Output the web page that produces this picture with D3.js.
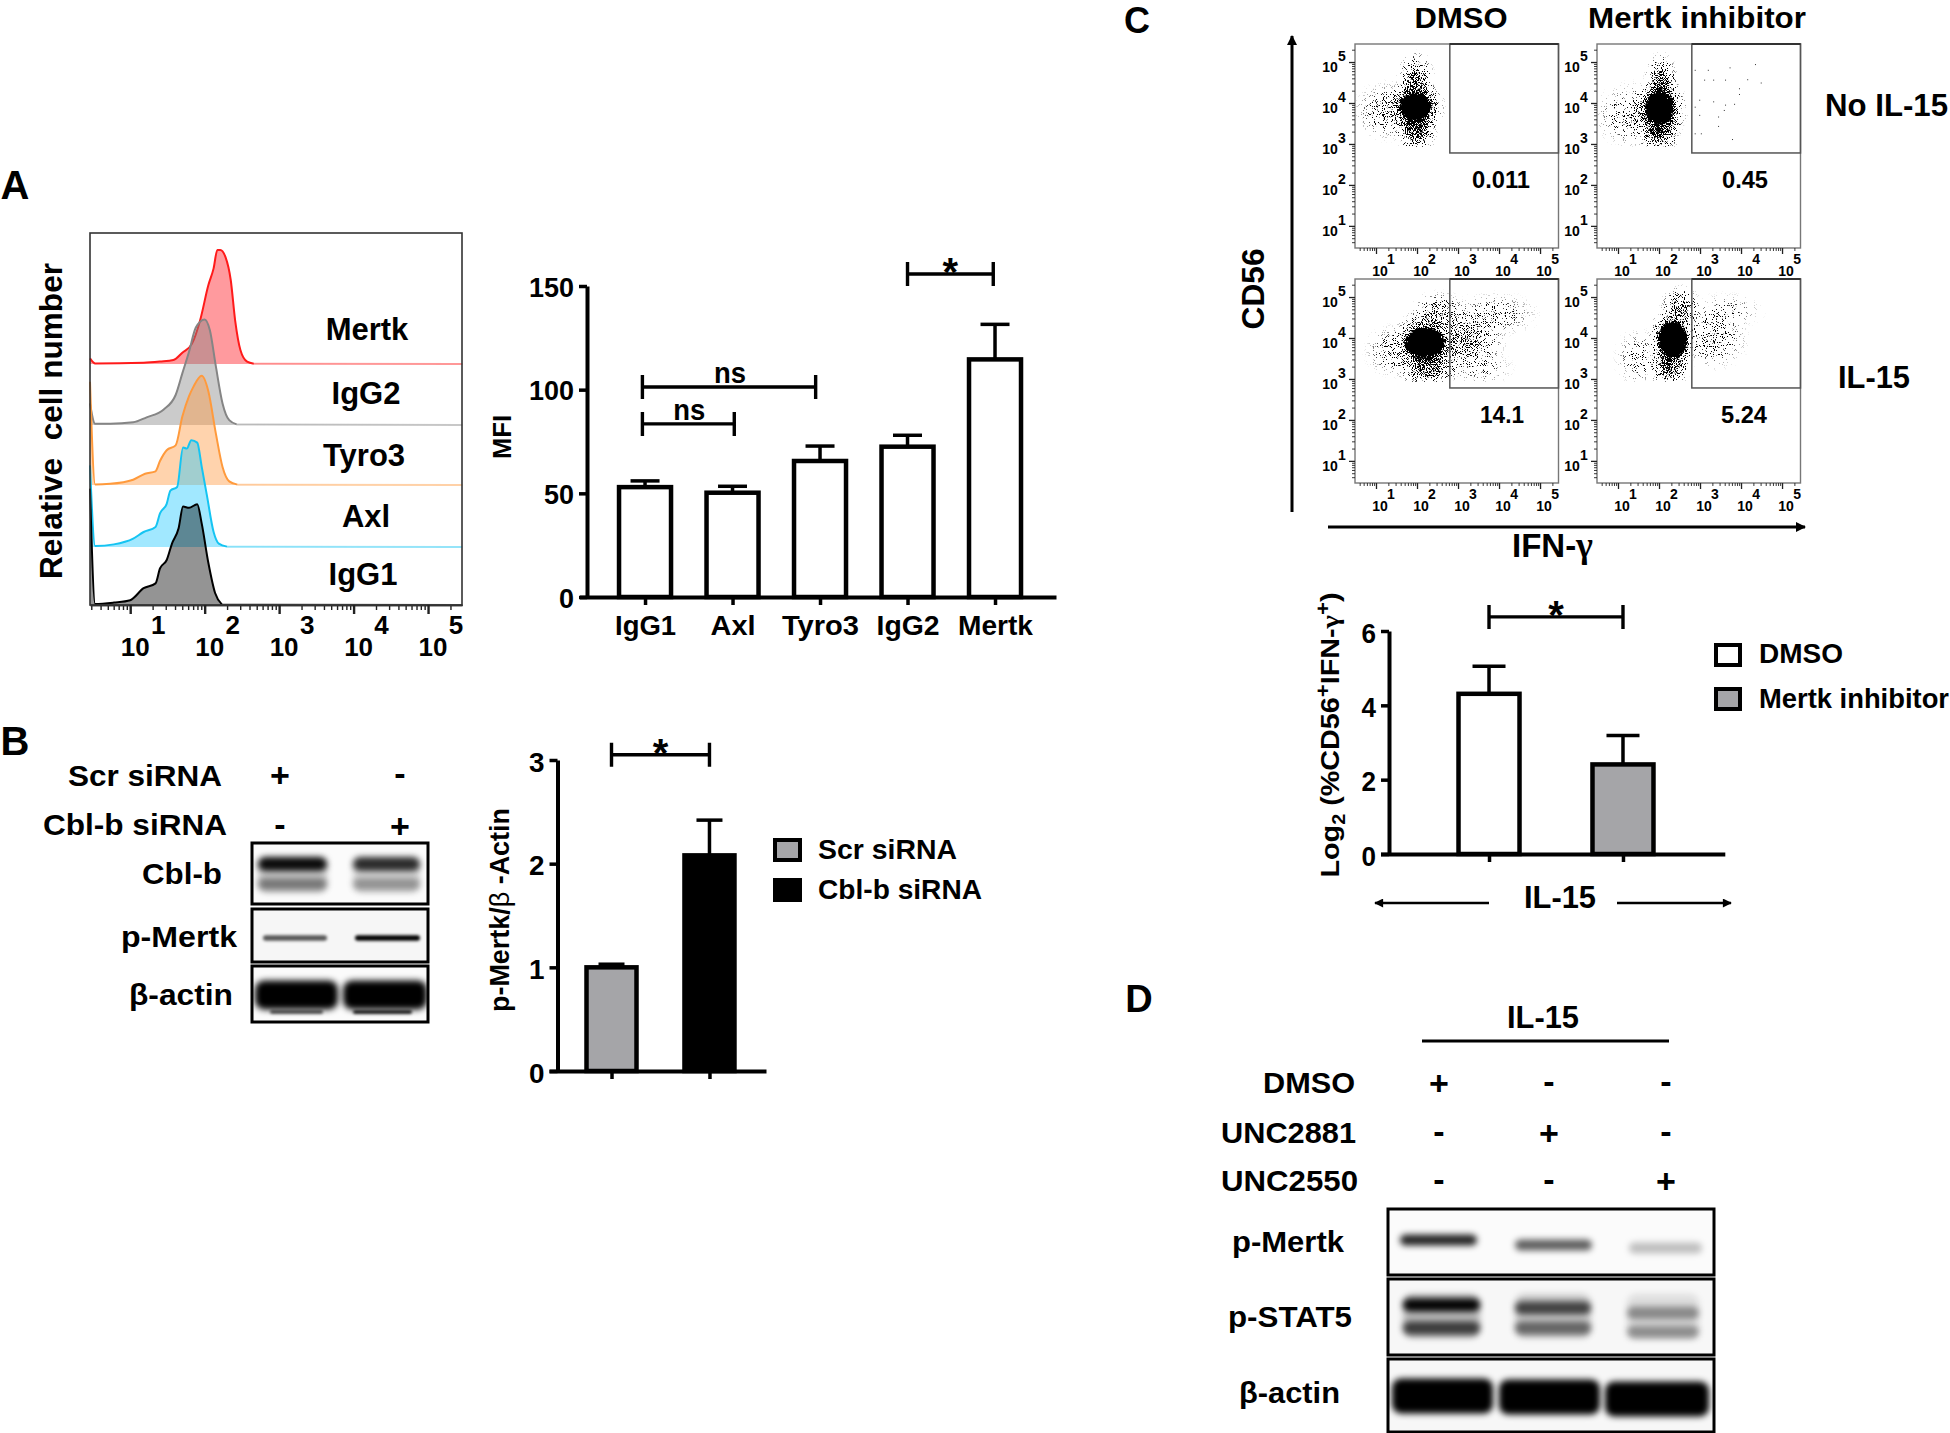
<!DOCTYPE html>
<html>
<head>
<meta charset="utf-8">
<script src="https://cdn.jsdelivr.net/npm/d3@7"></script>
<style>
html, body { margin: 0; background: #fff; overflow: hidden; }
svg { display: block; }
text { font-family: "Liberation Sans", Arial, sans-serif; font-weight: 700; fill: #000; white-space: pre; }
</style>
</head>
<body>
<div id="chart"></div>
<script>
// ---- data ----

// panel A histograms: x is log10 fluorescence, y is relative count
var histNames = ["Mertk", "IgG2", "Tyro3", "Axl", "IgG1"];
var mertkX = [0.46,0.53,1.18,1.40,1.58,1.70,1.83,1.94,2.05,2.12,2.17,2.21,2.28,2.35,2.41,2.48,2.57,2.66,5.46];
var mertkY = [4.7,0.5,1,2,3.3,9.4,17,36.7,65.8,79.7,95,95,89,70,36,11.7,2,0.3,0];
var igg2X = [0.46,0.53,0.73,1.04,1.22,1.45,1.61,1.70,1.79,1.88,2.0,2.07,2.15,2.24,2.33,2.43,5.46];
var igg2Y = [18,1,1,2.2,6.4,13,25,43,61,81,88,79,49,18,4,0.5,0];
var tyro3X = [0.46,0.53,0.73,1.04,1.2,1.34,1.40,1.49,1.61,1.70,1.79,1.85,1.96,2.05,2.15,2.24,2.33,2.44,5.46];
var tyro3Y = [86,0.5,1,4.4,9.4,11.4,20,29,33,57,74,82,91,78,43,15,3,0.3,0];
var axlX = [0.46,0.53,0.78,1.04,1.18,1.34,1.40,1.49,1.54,1.63,1.71,1.76,1.82,1.9,1.96,2.03,2.12,2.19,2.3,5.46];
var axlY = [68,0.8,2.2,7,12.5,16.7,28,36,47,50,83,82,89,87,67,43,12.5,2.8,0.3,0];
var igg1X = [0.46,0.53,0.78,1.0,1.18,1.34,1.40,1.49,1.56,1.65,1.71,1.79,1.9,1.96,2.05,2.14,2.23,5.46];
var igg1Y = [97,0.8,2,4,14,18,30.5,37.5,51,64,82,81,84,68,35,10,0.5,0];
var decades = [1, 2, 3, 4, 5];

// panel A bars
var mfiCats = ["IgG1", "Axl", "Tyro3", "IgG2", "Mertk"];
var mfiMeans = [53, 50.3, 65.6, 72.5, 114.6];
var mfiTops = [56, 53.4, 72.8, 78, 131.5];
var mfiTicks = [0, 50, 100, 150];

// panel B bars
var pMertkCats = ["Scr siRNA", "Cbl-b siRNA"];
var pMertkMeans = [1.0, 2.08];
var pMertkTops = [1.03, 2.42];
var pMertkTicks = [0, 1, 2, 3];

// panel C bars
var log2Cats = ["DMSO", "Mertk inhibitor"];
var log2Means = [4.31, 2.41];
var log2Tops = [5.05, 3.19];
var log2Ticks = [0, 2, 4, 6];

// panel C flow plots: gate percentages, solid cores and density regions (log10 units), sparse events read one by one
var gatePct = ["0.011", "0.45", "14.1", "5.24"];
var coreDmso = [1.96, 3.91, 0.38, 0.32];
var coreInh = [2.02, 3.87, 0.33, 0.4];
var coreDmsoIl = [2.19, 3.88, 0.48, 0.36];
var coreInhIl = [2.33, 3.96, 0.36, 0.44];
var cloudDmso = [[1.97,3.91,0.75,0.72,1],[1.97,3.91,0.55,0.55,1],[1.98,3.35,0.55,0.7,0.75],[1.97,4.55,0.5,0.8,0.6],[1.35,3.8,1.0,0.8,0.3]];
var cloudInh = [[2.02,3.87,0.72,0.8,1],[2.02,3.87,0.5,0.65,1],[2,3.35,0.6,0.65,0.75],[2.05,4.5,0.45,0.8,0.65],[1.4,3.7,1.1,0.9,0.28]];
var cloudDmsoIl = [[2.19,3.88,0.85,0.85,1],[2.19,3.88,0.6,0.6,1],[3.2,3.96,1.05,0.85,0.45],[3.89,4.58,1.2,0.6,0.2],[2.53,4.6,0.75,0.6,0.4],[2.3,3.3,0.85,0.7,0.6],[3.55,3.27,0.9,0.5,0.15],[1.4,3.68,0.75,0.7,0.25]];
var cloudInhIl = [[2.33,3.96,0.62,0.9,1],[2.33,3.96,0.42,0.65,1],[2.25,3.31,0.55,0.6,0.7],[2.53,4.74,0.55,0.6,0.5],[3.32,4,0.95,0.85,0.28],[3.66,4.66,1,0.5,0.14],[1.5,3.51,0.65,0.8,0.2]];
var sparseInhX = [2.87,3.19,3.72,4.34,3.10,3.32,3.61,4.15,4.48,3.95,3.95,2.98,3.32,3.61,3.83,2.87,3.58,2.98,3.44,3.44,2.87,3.02,3.78];
var sparseInhY = [4.81,4.81,4.87,4.95,4.57,4.57,4.57,4.58,4.50,4.36,4.22,4.08,4.04,3.96,3.98,3.91,3.83,3.71,3.67,3.44,3.26,3.26,3.12];

// western blots: band intensity per lane
var cblbUpper = [0.95, 0.8];
var cblbLower = [0.42, 0.32];
var cblbSmear = [0.18, 0.14];
var bMertkBand = [0.65, 1];
var bActinBand = [1, 1];
var bActinLow = [0.7, 0.95];
var dMertkBand = [0.85, 0.62, 0.24];
var dStat5Upper = [0.98, 0.68, 0.38];
var dStat5Lower = [0.68, 0.5, 0.36];
var dStat5Smear = [0.25, 0.18, 0.1];
var dActinBand = [1, 1, 1];

var bSigns = [["+", "-"], ["-", "+"]];
var dSigns = [["+", "-", "-"], ["-", "+", "-"], ["-", "-", "+"]];

// ---- setup ----
var svg = d3.select("#chart").append("svg").attr("width", 1950).attr("height", 1433);
var defs = svg.append("defs");

function label(x, y, str, size, len, anchor, rot) {
    var t = svg.append("text")
        .attr("x", x).attr("y", y)
        .attr("font-size", size)
        .attr("text-anchor", anchor || "middle")
        .text(str);
    if (len) t.attr("textLength", len).attr("lengthAdjust", "spacingAndGlyphs");
    if (rot) t.attr("transform", "rotate(-90 " + x + " " + y + ")");
    return t;
}

function arrowHead(id, w, h) {
    defs.append("marker").attr("id", id)
        .attr("markerUnits", "userSpaceOnUse")
        .attr("viewBox", "0 0 10 10").attr("refX", 9).attr("refY", 5)
        .attr("markerWidth", w).attr("markerHeight", h)
        .attr("orient", "auto-start-reverse")
        .append("path").attr("d", "M0,0L10,5L0,10Z");
}
arrowHead("headBig", 10, 10);
arrowHead("headSmall", 10, 9);

function arrow(x1, y1, x2, y2, width, head) {
    svg.append("line")
        .attr("x1", x1).attr("y1", y1).attr("x2", x2).attr("y2", y2)
        .attr("stroke", "#000").attr("stroke-width", width)
        .attr("marker-end", "url(#" + head + ")");
}

function minorTicks() {
    var out = [];
    d3.range(0, 6).forEach(function (d) {
        d3.range(2, 10).forEach(function (k) { out.push(d + Math.log10(k)); });
    });
    return out;
}

// panel letters
label(15, 199, "A", 40);
label(15, 755, "B", 40);
label(1137, 33, "C", 36);
label(1139, 1012, "D", 38);

// ---- panel A histograms ----
var histX = d3.scaleLinear().domain([0.46, 5.456]).range([90, 462]);
var histSeries = [
    {x: mertkX, y: mertkY, color: "#ff1a1a", fill: "rgba(255,30,40,0.45)", base: 364},
    {x: igg2X, y: igg2Y, color: "#858585", fill: "rgba(130,130,130,0.42)", base: 425},
    {x: tyro3X, y: tyro3Y, color: "#ff9a3c", fill: "rgba(255,150,60,0.42)", base: 485},
    {x: axlX, y: axlY, color: "#15c4f2", fill: "rgba(30,200,255,0.42)", base: 547},
    {x: igg1X, y: igg1Y, color: "#000", fill: "rgba(0,0,0,0.42)", base: 605}
];
var histLabelX = [367, 366, 364, 366, 363];
var histLabelY = [340, 404, 466, 527, 585];

histSeries.forEach(function (s, i) {
    var y = d3.scaleLinear().domain([0, 100]).range([s.base, s.base - 120]);
    var pts = s.x.map(function (v, j) { return [v, s.y[j]]; });
    var area = d3.area().curve(d3.curveMonotoneX)
        .x(function (d) { return histX(d[0]); }).y0(s.base).y1(function (d) { return y(d[1]); });
    var line = d3.line().curve(d3.curveMonotoneX)
        .x(function (d) { return histX(d[0]); }).y(function (d) { return y(d[1]); });
    svg.append("path").attr("d", area(pts)).attr("fill", s.fill);
    svg.append("path").attr("d", line(pts.slice(0, -1))).attr("fill", "none")
        .attr("stroke", s.color).attr("stroke-width", 2);
    svg.append("path").attr("d", line(pts.slice(-2))).attr("fill", "none")
        .attr("stroke", s.color).attr("stroke-opacity", 0.45).attr("stroke-width", 2);
    label(histLabelX[i], histLabelY[i], histNames[i], 31);
});

svg.append("rect").attr("x", 90).attr("y", 233).attr("width", 372).attr("height", 372)
    .attr("fill", "none").attr("stroke", "#333").attr("stroke-width", 1.6);

var histMinor = d3.axisBottom(histX)
    .tickValues(minorTicks().filter(function (d) { return d > 0.46 && d < 5.456; }))
    .tickSize(5).tickSizeOuter(0).tickFormat("");
var histMajor = d3.axisBottom(histX).tickValues(decades).tickSize(9).tickSizeOuter(0).tickFormat("");
[histMinor, histMajor].forEach(function (ax, k) {
    var g = svg.append("g").attr("transform", "translate(0,605)").call(ax);
    g.select(".domain").attr("stroke", "#333").attr("stroke-width", 1.6);
    g.selectAll("line").attr("stroke", "#222").attr("stroke-width", k ? 2.4 : 1.4);
});
decades.forEach(function (d) {
    label(histX(d) + 5, 656, "10", 26);
    label(histX(d) + 28, 634, String(d), 26);
});

label(62, 421, "Relative  cell number", 31, 316, "middle", true);

// ---- bar charts ----
function barChart(o) {
    var x = d3.scaleLinear().domain(o.xDomain).range(o.xRange);
    var y = d3.scaleLinear().domain(o.yDomain).range(o.yRange);
    var base = o.yRange[0];

    o.means.forEach(function (m, i) {
        svg.append("line")
            .attr("x1", x(i)).attr("x2", x(i)).attr("y1", y(m)).attr("y2", y(o.tops[i]))
            .attr("stroke", "#000").attr("stroke-width", 3.5);
        svg.append("line")
            .attr("x1", x(i) - o.capW / 2).attr("x2", x(i) + o.capW / 2)
            .attr("y1", y(o.tops[i])).attr("y2", y(o.tops[i]))
            .attr("stroke", "#000").attr("stroke-width", 3.5);
        svg.append("rect")
            .attr("x", x(i) - o.barW / 2).attr("y", y(m))
            .attr("width", o.barW).attr("height", base - y(m))
            .attr("fill", o.fills[i]).attr("stroke", "#000").attr("stroke-width", 4.5);
    });

    var yAxis = d3.axisLeft(y).tickValues(o.yTicks).tickSize(8).tickSizeOuter(0).tickFormat(d3.format("d"));
    var gy = svg.append("g").attr("transform", "translate(" + o.yAt + ",0)").call(yAxis);
    gy.select(".domain").attr("stroke", "#000").attr("stroke-width", 4);
    gy.selectAll(".tick line").attr("stroke", "#000").attr("stroke-width", 3.5);
    gy.selectAll("text")
        .attr("dy", null).attr("x", -13).attr("y", o.yLabelDy)
        .attr("text-anchor", "end")
        .attr("font-size", o.yFont)
        .style("font-family", null)
        .attr("textLength", function (d) { return String(d).length * o.yDigitW; })
        .attr("lengthAdjust", "spacingAndGlyphs");

    var xAxis = d3.axisBottom(x).tickValues(d3.range(o.means.length)).tickSize(8).tickSizeOuter(0)
        .tickFormat(function (i) { return o.xNames ? o.xNames[i] : ""; });
    var gx = svg.append("g").attr("transform", "translate(0," + base + ")").call(xAxis);
    gx.select(".domain").attr("stroke", "#000").attr("stroke-width", 4);
    gx.selectAll(".tick line").attr("stroke", "#000").attr("stroke-width", 3.5);
    if (o.xNames) {
        gx.selectAll("text")
            .attr("dy", null).attr("y", 38)
            .attr("font-size", 28)
            .attr("textLength", function (i) { return o.xNameW[i]; })
            .attr("lengthAdjust", "spacingAndGlyphs");
    }

    o.brackets.forEach(function (b) {
        var x0 = x(b.from), x1 = x(b.to), yy = y(b.level);
        svg.append("path")
            .attr("d", "M" + x0 + "," + (yy - 12) + "V" + (yy + 12) + "M" + x0 + "," + yy + "H" + x1 + "M" + x1 + "," + (yy - 12) + "V" + (yy + 12))
            .attr("fill", "none").attr("stroke", "#000").attr("stroke-width", 3.4);
        if (b.text === "*") label((x0 + x1) / 2, yy + 12, "*", 40);
        else label((x0 + x1) / 2 + 1, yy - 4, b.text, 30, 32);
    });
    return {x: x, y: y};
}

barChart({
    xDomain: [-0.749, 4.697], xRange: [579.5, 1056], yDomain: [0, 150], yRange: [597, 286], yAt: 587,
    means: mfiMeans, tops: mfiTops, fills: ["#fff", "#fff", "#fff", "#fff", "#fff"],
    barW: 52, capW: 29, yTicks: mfiTicks, yLabelDy: 10, yFont: 28, yDigitW: 15,
    xNames: mfiCats, xNameW: [61, 45, 77, 63, 75],
    brackets: [
        {from: -0.03, to: 1.02, level: 83.5, text: "ns"},
        {from: -0.03, to: 1.95, level: 101.3, text: "ns"},
        {from: 3, to: 3.98, level: 155.8, text: "*"}
    ]
});
label(511, 437, "MFI", 26, 44, "middle", true);

barChart({
    xDomain: [-0.638, 1.577], xRange: [549, 766], yDomain: [0, 3], yRange: [1071, 760], yAt: 557.5,
    means: pMertkMeans, tops: pMertkTops, fills: ["#a5a5a8", "#000"],
    barW: 50, capW: 26, yTicks: pMertkTicks, yLabelDy: 11, yFont: 28, yDigitW: 15.5,
    brackets: [{from: 0, to: 1, level: 3.05, text: "*"}]
});
var tB = label(509, 910, "", 27, 204, "middle", true);
tB.append("tspan").text("p-Mertk/");
tB.append("tspan").style("font-weight", 400).text("β");
tB.append("tspan").text(" -Actin");

barChart({
    xDomain: [-0.81, 1.76], xRange: [1380.5, 1724.8], yDomain: [0, 6], yRange: [854, 631], yAt: 1389,
    means: log2Means, tops: log2Tops, fills: ["#fff", "#a5a5a8"],
    barW: 61, capW: 33, yTicks: log2Ticks, yLabelDy: 11, yFont: 27, yDigitW: 14.5,
    brackets: [{from: 0, to: 1, level: 6.38, text: "*"}]
});
var tC = label(1339, 735, "", 26, 285, "middle", true);
tC.append("tspan").text("Log");
tC.append("tspan").attr("dy", 6).attr("font-size", 18).text("2");
tC.append("tspan").attr("dy", -6).text(" (%CD56");
tC.append("tspan").attr("dy", -9).attr("font-size", 20).text("+");
tC.append("tspan").attr("dy", 9).text("IFN-");
tC.append("tspan").style("font-family", "Liberation Serif").text("γ");
tC.append("tspan").attr("dy", -9).attr("font-size", 20).text("+");
tC.append("tspan").attr("dy", 9).text(")");

// legends
function legendBox(x, y, w, h, fill, name, tx, ty, size, len) {
    svg.append("rect").attr("x", x).attr("y", y).attr("width", w).attr("height", h)
        .attr("fill", fill).attr("stroke", "#000").attr("stroke-width", 4);
    label(tx, ty, name, size, len, "start");
}
legendBox(775, 840, 25, 20, "#a5a5a8", pMertkCats[0], 818, 859, 28, 139);
legendBox(775, 880, 25, 20, "#000", pMertkCats[1], 818, 899, 28, 164);
legendBox(1716, 645, 24, 20, "#fff", log2Cats[0], 1759, 663, 28, 84);
legendBox(1716, 689, 24, 20, "#a5a5a8", log2Cats[1], 1759, 708, 28, 190);

label(1560, 908, "IL-15", 31, 72);
arrow(1489, 903, 1375, 903, 2.6, "headSmall");
arrow(1617, 903, 1731, 903, 2.6, "headSmall");

// ---- western blots ----
[["blurThin", 1.7], ["blurMid", 3.2], ["blurWide", 3.2]].forEach(function (b) {
    defs.append("filter").attr("id", b[0]).attr("x", "-20%").attr("y", "-80%").attr("width", "140%").attr("height", "260%")
        .append("feGaussianBlur").attr("stdDeviation", b[1]);
});

var blotCount = 0;
function blot(box, lanes, bands, bg) {
    var id = "blotclip" + (blotCount++);
    defs.append("clipPath").attr("id", id).append("rect")
        .attr("x", box[0]).attr("y", box[1]).attr("width", box[2] - box[0]).attr("height", box[3] - box[1]);
    svg.append("rect").attr("x", box[0]).attr("y", box[1]).attr("width", box[2] - box[0]).attr("height", box[3] - box[1])
        .attr("fill", bg || "#fbfbfb");
    var g = svg.append("g").attr("clip-path", "url(#" + id + ")");
    bands.forEach(function (b) {
        b.values.forEach(function (v, i) {
            var l = b.lanes ? b.lanes[i] : lanes[i];
            var yc = Array.isArray(b.y) ? b.y[i] : b.y;
            g.append("rect")
                .attr("x", l[0]).attr("width", l[1] - l[0])
                .attr("y", yc - b.h / 2).attr("height", b.h)
                .attr("rx", Math.min(b.h / 2, 9))
                .attr("fill", "#000").attr("fill-opacity", v)
                .attr("filter", "url(#" + (b.h < 7 ? "blurThin" : b.h > 20 ? "blurWide" : "blurMid") + ")");
        });
    });
    svg.append("rect").attr("x", box[0]).attr("y", box[1]).attr("width", box[2] - box[0]).attr("height", box[3] - box[1])
        .attr("fill", "none").attr("stroke", "#000").attr("stroke-width", 3);
}

blot([252, 843, 428, 904], [[258, 327], [353, 420]], [
    {y: 876, h: 34, values: cblbSmear},
    {y: 864, h: 14, values: cblbUpper},
    {y: 884, h: 12, values: cblbLower}
]);
blot([252, 909, 428, 962], [[263, 327], [355, 420]], [
    {y: 938, h: 5.5, values: bMertkBand}
], "#f6f6f6");
blot([252, 966, 428, 1022], [[255, 338], [343, 427]], [
    {y: 995, h: 29, values: bActinBand},
    {y: 1012, h: 3.5, values: bActinLow, lanes: [[270, 323], [353, 412]]}
]);

blot([1388, 1209, 1714, 1275], [[1400, 1477], [1515, 1592], [1629, 1702]], [
    {y: [1240, 1245, 1248], h: 11, values: dMertkBand}
]);
blot([1388, 1279, 1714, 1355], [[1403, 1480], [1515, 1591], [1627, 1699]], [
    {y: 1316, h: 44, values: dStat5Smear},
    {y: [1305, 1308, 1313], h: 13, values: dStat5Upper},
    {y: [1328, 1328, 1332], h: 13, values: dStat5Lower}
], "#f7f7f7");
blot([1388, 1359, 1714, 1432], [[1392, 1493], [1499, 1600], [1605, 1709]], [
    {y: [1396, 1397, 1399], h: 35, values: dActinBand}
], "#f7f7f7");

// blot labels and treatment grid
function signs(table, xs, ys) {
    table.forEach(function (row, r) {
        row.forEach(function (s, c) {
            label(xs[c], ys[r] + (s === "+" ? 12 : 10), s, 34);
        });
    });
}
label(68, 786, "Scr siRNA", 30, 154, "start");
label(43, 835, "Cbl-b siRNA", 30, 184, "start");
label(142, 884, "Cbl-b", 30, 80, "start");
label(121, 947, "p-Mertk", 30, 116, "start");
label(129, 1005, "β-actin", 30, 104, "start");
signs(bSigns, [280, 400], [775, 826]);

label(1543, 1028, "IL-15", 31, 72);
svg.append("line").attr("x1", 1422).attr("x2", 1669).attr("y1", 1041).attr("y2", 1041)
    .attr("stroke", "#000").attr("stroke-width", 3);
label(1263, 1093, "DMSO", 30, 92, "start");
label(1221, 1143, "UNC2881", 30, 135, "start");
label(1221, 1191, "UNC2550", 30, 137, "start");
signs(dSigns, [1439, 1549, 1666], [1083, 1133, 1181]);
label(1232, 1252, "p-Mertk", 30, 112, "start");
label(1228, 1327, "p-STAT5", 30, 124, "start");
label(1239, 1403, "β-actin", 30, 101, "start");

// ---- panel C flow plots ----
var grad = defs.append("radialGradient").attr("id", "cloud");
[[0, 1], [0.3, 0.8], [0.5, 0.45], [0.7, 0.18], [0.85, 0.06], [1, 0]].forEach(function (s) {
    grad.append("stop").attr("offset", s[0]).attr("stop-color", "#000").attr("stop-opacity", s[1]);
});

// rough edge for the solid core of each cloud
var rough = defs.append("filter").attr("id", "rough").attr("x", "-30%").attr("y", "-30%").attr("width", "160%").attr("height", "160%");
rough.append("feTurbulence").attr("type", "fractalNoise").attr("baseFrequency", 0.7).attr("numOctaves", 1).attr("seed", 5).attr("result", "w");
rough.append("feDisplacementMap").attr("in", "SourceGraphic").attr("in2", "w").attr("scale", 9)
    .attr("xChannelSelector", "R").attr("yChannelSelector", "G");

var plotW = 203.5, plotH = 204;
function flowPlot(o) {
    var x = d3.scaleLinear().domain([0.488, 5.45]).range([o.left, o.left + plotW]);
    var y = d3.scaleLinear().domain([0.46, 5.44]).range([o.top + plotH, o.top]);
    var b = o.top + plotH, r = o.left + plotW;
    var fid = "stipple" + o.seed, cid = "plotclip" + o.seed;

    // density regions come out as stippled dots through a thresholded noise filter
    var f = defs.append("filter").attr("id", fid)
        .attr("filterUnits", "userSpaceOnUse")
        .attr("x", o.left).attr("y", o.top).attr("width", plotW).attr("height", plotH)
        .attr("color-interpolation-filters", "sRGB");
    f.append("feTurbulence").attr("type", "fractalNoise").attr("baseFrequency", 1.1)
        .attr("numOctaves", 1).attr("seed", o.seed).attr("result", "n");
    f.append("feColorMatrix").attr("in", "n").attr("type", "matrix")
        .attr("values", "0 0 0 0 0  0 0 0 0 0  0 0 0 0 0  3 0 0 0 -1").attr("result", "na");
    f.append("feComposite").attr("in", "SourceAlpha").attr("in2", "na").attr("operator", "arithmetic")
        .attr("k1", 0).attr("k2", 1).attr("k3", 1).attr("k4", -1).attr("result", "c");
    f.append("feComponentTransfer").attr("in", "c")
        .append("feFuncA").attr("type", "linear").attr("slope", 8).attr("intercept", 0);

    defs.append("clipPath").attr("id", cid).append("rect")
        .attr("x", o.left).attr("y", o.top).attr("width", plotW).attr("height", y(2.93) - o.top);

    var outer = svg.append("g").attr("clip-path", "url(#" + cid + ")");
    var g = outer.append("g").attr("filter", "url(#" + fid + ")");
    o.cloud.forEach(function (c) {
        g.append("ellipse")
            .attr("cx", x(c[0])).attr("cy", y(c[1]))
            .attr("rx", x(c[0] + c[2]) - x(c[0])).attr("ry", y(c[1]) - y(c[1] + c[3]))
            .attr("fill", "url(#cloud)").attr("opacity", c[4]);
    });
    outer.append("ellipse")
        .attr("cx", x(o.core[0])).attr("cy", y(o.core[1]))
        .attr("rx", x(o.core[0] + o.core[2]) - x(o.core[0])).attr("ry", y(o.core[1]) - y(o.core[1] + o.core[3]))
        .attr("fill", "#000").attr("filter", "url(#rough)");
    if (o.sparseX) {
        o.sparseX.forEach(function (v, i) {
            svg.append("rect").attr("x", x(v)).attr("y", y(o.sparseY[i])).attr("width", 1).attr("height", 1).attr("fill", "#333");
        });
    }

    svg.append("rect").attr("x", o.left).attr("y", o.top).attr("width", plotW).attr("height", plotH)
        .attr("fill", "none").attr("stroke", "#777").attr("stroke-width", 1.4);
    svg.append("rect").attr("x", x(2.8)).attr("y", o.top).attr("width", r - x(2.8)).attr("height", y(2.78) - o.top)
        .attr("fill", "none").attr("stroke", "#555").attr("stroke-width", 1.5);
    svg.append("line").attr("x1", x(2.8)).attr("x2", r).attr("y1", o.top).attr("y2", o.top)
        .attr("stroke", "#333").attr("stroke-width", 2);

    var minors = minorTicks();
    [[minors.filter(function (d) { return d > 0.49 && d < 5.44; }), 3, 0.9], [decades, 6, 1.3]].forEach(function (a) {
        var gx = svg.append("g").attr("transform", "translate(0," + b + ")")
            .call(d3.axisBottom(x).tickValues(a[0]).tickSize(a[1]).tickSizeOuter(0).tickFormat(""));
        gx.select(".domain").remove();
        gx.selectAll("line").attr("stroke", "#222").attr("stroke-width", a[2]);
        var gy = svg.append("g").attr("transform", "translate(" + o.left + ",0)")
            .call(d3.axisLeft(y).tickValues(a[0].filter(function (d) { return d > 0.46; })).tickSize(a[1]).tickSizeOuter(0).tickFormat(""));
        gy.select(".domain").remove();
        gy.selectAll("line").attr("stroke", "#222").attr("stroke-width", a[2]);
    });
    decades.forEach(function (d) {
        label(x(d) + 4, b + 28, "10", 14);
        label(x(d) + 15, b + 16, String(d), 14);
        label(o.left - 25, y(d) + 10, "10", 14);
        label(o.left - 13, y(d) - 1, String(d), 14);
    });
}

flowPlot({left: 1355, top: 44, core: coreDmso, cloud: cloudDmso, seed: 3});
flowPlot({left: 1597, top: 44, core: coreInh, cloud: cloudInh, seed: 7, sparseX: sparseInhX, sparseY: sparseInhY});
flowPlot({left: 1355, top: 279, core: coreDmsoIl, cloud: cloudDmsoIl, seed: 11});
flowPlot({left: 1597, top: 279, core: coreInhIl, cloud: cloudInhIl, seed: 19});

label(1501, 188, gatePct[0], 23, 58);
label(1745, 188, gatePct[1], 23, 46);
label(1502, 423, gatePct[2], 23, 44);
label(1744, 423, gatePct[3], 23, 46);

label(1461, 28, "DMSO", 30, 93);
label(1697, 28, "Mertk inhibitor", 30, 218);
label(1825, 116, "No IL-15", 31, 123, "start");
label(1838, 388, "IL-15", 31, 72, "start");

label(1264, 289, "CD56", 32, 81, "middle", true);
arrow(1292, 512, 1292, 36, 3, "headBig");
arrow(1328, 527, 1805, 527, 3, "headBig");
label(1512, 557, "IFN-", 33, null, "start");
label(1576, 557, "γ", 36, null, "start").style("font-family", "Liberation Serif");
</script>
</body>
</html>
